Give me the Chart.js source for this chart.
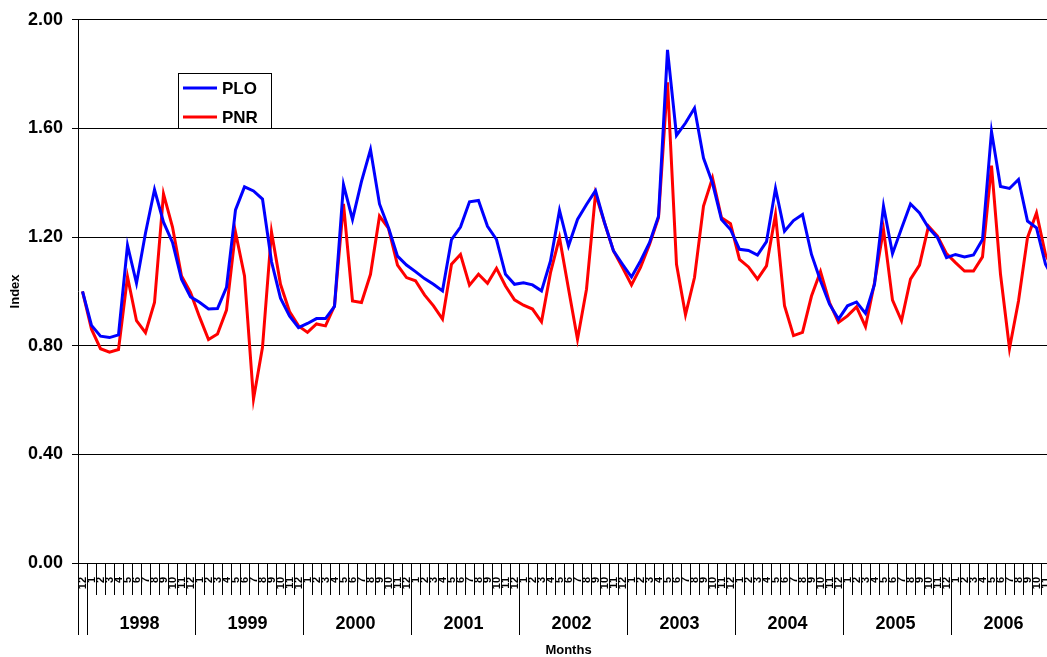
<!DOCTYPE html>
<html>
<head>
<meta charset="utf-8">
<title>PLO / PNR index</title>
<script src="https://cdn.jsdelivr.net/npm/chart.js@4/dist/chart.umd.min.js"></script>
<style>
  html, body { margin: 0; padding: 0; background: #fff; overflow: hidden; }
  canvas { display: block; }
</style>
</head>
<body>
<canvas id="indexChart" width="1080" height="657"></canvas>
<script>
/* -----------------------------------------
   data
----------------------------------------- */
const years = ["1998", "1999", "2000", "2001", "2002", "2003", "2004", "2005", "2006"];

// Dec 1997, then Jan..Dec for each year
const months = ["12"];
years.forEach(() => {
    for (let m = 1; m <= 12; m++) months.push(String(m));
});

const plo = [
    1.00,
    0.875, 0.835, 0.83, 0.84, 1.17, 1.03, 1.215, 1.375, 1.255, 1.18, 1.045, 0.98,
    0.96, 0.935, 0.937, 1.015, 1.30, 1.385, 1.37, 1.34, 1.11, 0.975, 0.91, 0.867,
    0.882, 0.90, 0.90, 0.945, 1.393, 1.265, 1.405, 1.522, 1.322, 1.234, 1.13, 1.097,
    1.073, 1.047, 1.026, 1.002, 1.191, 1.237, 1.33, 1.335, 1.24, 1.191, 1.063, 1.026,
    1.032, 1.024, 1.002, 1.112, 1.298, 1.167, 1.265, 1.32, 1.371, 1.253, 1.149, 1.10,
    1.053, 1.112, 1.179, 1.277, 1.889, 1.574, 1.62, 1.675, 1.491, 1.399, 1.265, 1.228,
    1.155, 1.151, 1.134, 1.183, 1.379, 1.222, 1.261, 1.283, 1.136, 1.039, 0.953, 0.898,
    0.947, 0.961, 0.919, 1.026, 1.314, 1.139, 1.232, 1.322, 1.289, 1.234, 1.198, 1.124,
    1.136, 1.127, 1.134, 1.191, 1.589, 1.386, 1.379, 1.412, 1.259, 1.234, 1.10, 1.04
];

const pnr = [
    1.00,
    0.861, 0.789, 0.776, 0.786, 1.054, 0.892, 0.848, 0.959, 1.359, 1.237, 1.057, 0.996,
    0.906, 0.823, 0.843, 0.931, 1.218, 1.057, 0.604, 0.794, 1.219, 1.026, 0.926, 0.873,
    0.849, 0.88, 0.873, 0.947, 1.322, 0.965, 0.959, 1.063, 1.277, 1.232, 1.097, 1.051,
    1.039, 0.987, 0.947, 0.898, 1.10, 1.136, 1.023, 1.063, 1.03, 1.085, 1.02, 0.969,
    0.949, 0.935, 0.888, 1.069, 1.198, 1.01, 0.824, 1.008, 1.359, 1.253, 1.149, 1.088,
    1.024, 1.088, 1.173, 1.271, 1.77, 1.10, 0.914, 1.051, 1.314, 1.418, 1.271, 1.249,
    1.118, 1.09, 1.045, 1.094, 1.283, 0.947, 0.837, 0.849, 0.983, 1.073, 0.959, 0.886,
    0.91, 0.943, 0.87, 1.032, 1.228, 0.968, 0.892, 1.045, 1.097, 1.24, 1.204, 1.139,
    1.106, 1.075, 1.075, 1.127, 1.463, 1.063, 0.79, 0.965, 1.198, 1.289, 1.136, 1.07
];

const yTicks = [0, 0.4, 0.8, 1.2, 1.6, 2.0];

/* -----------------------------------------
   plugins
----------------------------------------- */
const FONT = "'Liberation Sans', Arial, sans-serif";

// second row of the x axis: year groups with separators
const yearAxis = {
    id: "yearAxis",
    afterDraw(chart) {
        const { ctx, chartArea } = chart;
        const x = chart.scales.x;
        const half = (x.getPixelForValue(1) - x.getPixelForValue(0)) / 2;
        const edge = i => Math.round(x.getPixelForValue(i) - half) + 0.5;

        const cuts = [0];
        years.forEach((y, k) => cuts.push(1 + 12 * k));
        cuts.push(months.length);

        ctx.save();
        ctx.strokeStyle = "#000";
        ctx.lineWidth = 1;
        ctx.beginPath();
        cuts.forEach(i => {
            ctx.moveTo(edge(i), chartArea.bottom);
            ctx.lineTo(edge(i), 635);
        });
        ctx.stroke();

        ctx.fillStyle = "#000";
        ctx.font = "bold 18px " + FONT;
        ctx.textAlign = "center";
        ctx.textBaseline = "middle";
        years.forEach((y, k) => {
            const a = edge(1 + 12 * k);
            const b = edge(13 + 12 * k);
            ctx.fillText(y, (a + b) / 2 - 2, 624);
        });
        ctx.restore();
    }
};

// boxed legend inside the plot
const boxLegend = {
    id: "boxLegend",
    afterDraw(chart) {
        const ctx = chart.ctx;
        ctx.save();
        ctx.fillStyle = "#fff";
        ctx.fillRect(178.5, 73.5, 93, 55);
        ctx.strokeStyle = "#000";
        ctx.lineWidth = 1;
        ctx.strokeRect(178.5, 73.5, 93, 55);

        ctx.font = "bold 17px " + FONT;
        ctx.textBaseline = "middle";
        chart.data.datasets.forEach((ds, i) => {
            const y = 88 + i * 29;
            ctx.strokeStyle = ds.borderColor;
            ctx.lineWidth = 3;
            ctx.beginPath();
            ctx.moveTo(183, y);
            ctx.lineTo(217, y);
            ctx.stroke();
            ctx.fillStyle = "#000";
            ctx.fillText(ds.label, 222, y + 1);
        });
        ctx.restore();
    }
};

/* -----------------------------------------
   chart
----------------------------------------- */
new Chart(document.getElementById("indexChart"), {
    type: "line",
    data: {
        labels: months,
        datasets: [
            { label: "PLO", data: plo, borderColor: "#0000ff", borderWidth: 3 },
            { label: "PNR", data: pnr, borderColor: "#ff0000", borderWidth: 3 }
        ]
    },
    options: {
        responsive: false,
        animation: false,
        events: [],
        layout: { padding: { top: 18, right: 21, bottom: 0, left: 0 } },
        elements: {
            point: { radius: 0 },
            line: { tension: 0, borderJoinStyle: "miter", fill: false }
        },
        plugins: {
            legend: { display: false },
            tooltip: { enabled: false }
        },
        scales: {
            x: {
                offset: true,
                afterFit: s => { s.height = 94; },
                grid: {
                    offset: true,
                    drawOnChartArea: false,
                    drawTicks: true,
                    tickLength: 32,
                    color: "#000"
                },
                border: { color: "#000" },
                ticks: {
                    autoSkip: false,
                    minRotation: 90,
                    maxRotation: 90,
                    padding: -18,
                    color: "#000",
                    font: { family: FONT, size: 11, weight: "bold" }
                },
                title: {
                    display: true,
                    text: "Months",
                    color: "#000",
                    padding: 0,
                    font: { family: FONT, size: 13, weight: "bold", lineHeight: 1 }
                }
            },
            y: {
                min: 0,
                max: 2,
                afterFit: s => { s.width = 78; },
                afterBuildTicks: s => { s.ticks = yTicks.map(v => ({ value: v })); },
                grid: { color: "#000", tickLength: 6 },
                border: { color: "#000" },
                ticks: {
                    padding: 9,
                    color: "#000",
                    font: { family: FONT, size: 18, weight: "bold" },
                    callback: v => Number(v).toFixed(2)
                },
                title: {
                    display: true,
                    text: "Index",
                    color: "#000",
                    padding: { top: 8, bottom: 0 },
                    font: { family: FONT, size: 13, weight: "bold" }
                }
            }
        }
    },
    plugins: [yearAxis, boxLegend]
});
</script>
</body>
</html>
